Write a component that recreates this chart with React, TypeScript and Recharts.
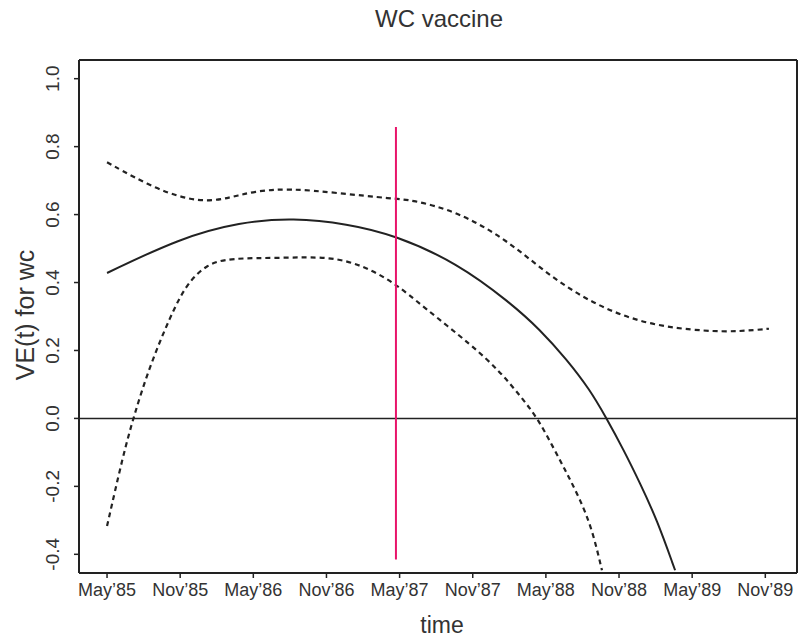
import { LineChart, Line, XAxis, YAxis, ReferenceLine } from 'recharts';

// months since May'85
const xTicks = [0, 6, 12, 18, 24, 30, 36, 42, 48, 54];
const xLabels = ['May’85', 'Nov’85', 'May’86', 'Nov’86', 'May’87', 'Nov’87', 'May’88', 'Nov’88', 'May’89', 'Nov’89'];
const yTicks = [-0.4, -0.2, 0, 0.2, 0.4, 0.6, 0.8, 1.0];
const yLabels = ['-0.4', '-0.2', '0.0', '0.2', '0.4', '0.6', '0.8', '1.0'];

const estMonths = [0, 6.0, 10.9, 15.3, 19.7, 23.6, 28.7, 33.1, 35.5, 37.7, 39.6, 40.9, 42.4, 43.7, 45.1, 46.6];
const estValues = [0.428, 0.531, 0.578, 0.59, 0.573, 0.54, 0.458, 0.34, 0.262, 0.174, 0.085, 0.005, -0.094, -0.189, -0.297, -0.447];

const upperMonths = [0, 4.1, 7.6, 10.1, 12.0, 15.0, 18.8, 23.6, 24.9, 28.7, 32.8, 36.3, 40.2, 44.5, 49.2, 51.9, 54.3];
const upperValues = [0.754, 0.672, 0.635, 0.649, 0.669, 0.677, 0.664, 0.646, 0.644, 0.61, 0.526, 0.419, 0.33, 0.274, 0.256, 0.256, 0.264];

const lowerMonths = [0, 1.3, 2.2, 3.5, 5.2, 6.5, 8.2, 10.1, 14.2, 18.3, 21.0, 23.6, 25.9, 30.0, 32.2, 33.9, 35.3, 36.6, 37.7, 38.8, 39.8, 40.6];
const lowerValues = [-0.317, -0.111, 0.007, 0.154, 0.301, 0.395, 0.455, 0.472, 0.472, 0.477, 0.45, 0.399, 0.33, 0.213, 0.139, 0.066, 0.002, -0.085, -0.16, -0.238, -0.326, -0.447];

const markMonth = 23.7;
const markTop = 0.858;
const markBottom = -0.415;

const xDomain = [-2.3, 56.6];
const yDomain = [-0.455, 1.055];

const toRows = (xs: number[], ys: number[]) => xs.map((t, i) => ({ t, v: ys[i] }));

const ink = '#222';
const font = '"Liberation Sans", Arial, sans-serif';

function XTick({ x, y, payload }: any) {
  const i = xTicks.indexOf(payload.value);
  return (
    <text x={x} y={y + 16} textAnchor="middle" fontSize={18} fontFamily={font} fill="#333">
      {xLabels[i]}
    </text>
  );
}

function YTick({ x, y, payload }: any) {
  const i = yTicks.findIndex((v) => Math.abs(v - payload.value) < 1e-6);
  return (
    <text
      x={x - 13}
      y={y}
      textAnchor="middle"
      fontSize={19}
      fontFamily={font}
      fill="#333"
      transform={`rotate(-90, ${x - 13}, ${y})`}
    >
      {yLabels[i]}
    </text>
  );
}

export default function App() {
  return (
    <div style={{ position: 'absolute', left: 0, top: 0, width: 799, height: 643, background: '#fff', fontFamily: font }}>
      <div style={{ position: 'absolute', left: 339, top: 5, width: 200, textAlign: 'center', fontSize: 24, color: '#333' }}>
        WC vaccine
      </div>
      <div style={{ position: 'absolute', left: 392, top: 612, width: 100, textAlign: 'center', fontSize: 23, color: '#333' }}>
        time
      </div>
      <div
        style={{
          position: 'absolute',
          left: 25 - 100,
          top: 315 - 14,
          width: 200,
          textAlign: 'center',
          fontSize: 25,
          lineHeight: '28px',
          color: '#333',
          transform: 'rotate(-90deg)',
        }}
      >
        VE(t) for wc
      </div>
      <LineChart width={799} height={643} margin={{ top: 60, right: 2, bottom: 0, left: 0 }}>
        <XAxis
          type="number"
          dataKey="t"
          domain={xDomain}
          ticks={xTicks}
          allowDataOverflow
          height={70}
          tick={<XTick />}
          tickSize={5}
          axisLine={{ stroke: ink, strokeWidth: 2 }}
          tickLine={{ stroke: ink, strokeWidth: 1.5 }}
        />
        <YAxis
          type="number"
          domain={yDomain}
          ticks={yTicks}
          allowDataOverflow
          width={79}
          tick={<YTick />}
          tickSize={5}
          axisLine={{ stroke: ink, strokeWidth: 2 }}
          tickLine={{ stroke: ink, strokeWidth: 1.5 }}
        />
        <ReferenceLine y={yDomain[1]} stroke={ink} strokeWidth={2} />
        <ReferenceLine x={xDomain[1]} stroke={ink} strokeWidth={2} />
        <ReferenceLine y={0} stroke={ink} strokeWidth={1.5} />
        <Line
          data={toRows(upperMonths, upperValues)}
          dataKey="v"
          type="basis"
          stroke={ink}
          strokeWidth={2.2}
          strokeDasharray="5 4"
          dot={false}
          isAnimationActive={false}
        />
        <Line
          data={toRows(lowerMonths, lowerValues)}
          dataKey="v"
          type="basis"
          stroke={ink}
          strokeWidth={2.2}
          strokeDasharray="5 4"
          dot={false}
          isAnimationActive={false}
        />
        <Line
          data={toRows(estMonths, estValues)}
          dataKey="v"
          type="basis"
          stroke={ink}
          strokeWidth={2}
          dot={false}
          isAnimationActive={false}
        />
        <ReferenceLine
          segment={[
            { x: markMonth, y: markTop },
            { x: markMonth, y: markBottom },
          ]}
          stroke="#e8146a"
          strokeWidth={2}
        />
      </LineChart>
    </div>
  );
}
